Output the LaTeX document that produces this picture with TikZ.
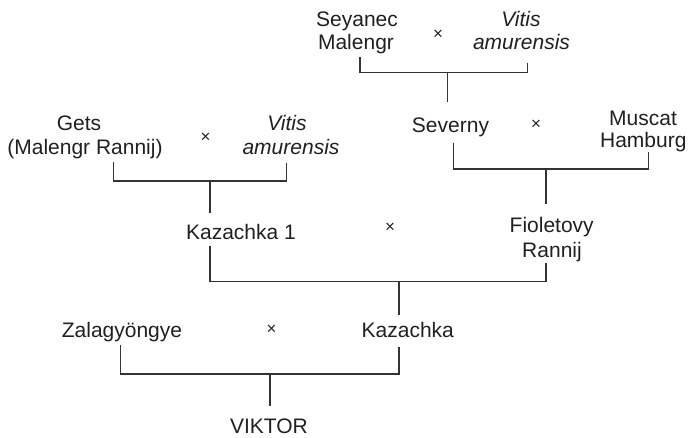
\documentclass[tikz,border=0pt]{standalone}
\usepackage{fontspec}
\setmainfont{Liberation Sans}
\definecolor{ink}{HTML}{231F20}
\definecolor{wire}{HTML}{333333}
\begin{document}
\begin{tikzpicture}[x=1pt,y=-1pt,
  lbl/.style={anchor=base,inner sep=0pt,text=ink,font=\fontsize{21}{22}\selectfont},
  cross/.style={anchor=center,inner sep=0pt,text=ink,font=\fontsize{17}{18}\selectfont},
  link/.style={draw=wire,line width=1.4pt,line join=miter}]
\useasboundingbox (0,0) rectangle (688,437);

% cultivar names, one node per printed line
\node[lbl] (sey1) at (357,26) {Seyanec};
\node[lbl] (sey2) at (356,49.5) {Malengr};
\node[lbl] (vaA1) at (521,26) {\itshape Vitis};
\node[lbl] (vaA2) at (521.5,49.5) {\itshape amurensis};
\node[cross] (xA) at (438,35) {×};

\node[lbl] (sev) at (450.5,132) {Severny};
\node[lbl] (mh1) at (643,125) {Muscat};
\node[lbl] (mh2) at (643.3,147.7) {Hamburg};
\node[cross] (xB) at (536,125) {×};

\node[lbl] (fr1) at (551.7,232.7) {Fioletovy};
\node[lbl] (fr2) at (552,257.3) {Rannij};

\node[lbl] (gets1) at (79,130.7) {Gets};
\node[lbl] (gets2) at (85,154) {(Malengr Rannij)};
\node[lbl] (vaB1) at (287,130.7) {\itshape Vitis};
\node[lbl] (vaB2) at (291,154) {\itshape amurensis};
\node[cross] (xC) at (205.7,137.3) {×};

\node[lbl] (kaz1) at (241,239.3) {Kazachka 1};
\node[cross] (xD) at (390,227.7) {×};

\node[lbl] (zal) at (122,337.3) {Zalagyöngye};
\node[lbl] (kaz) at (407.8,337.3) {Kazachka};
\node[cross] (xE) at (271.7,330) {×};

\node[lbl] (vik) at (269,433.2) {VIKTOR};

% bracket end points
\coordinate (tA1) at (360,56.7);
\coordinate (tA2) at (527.3,63);
\coordinate (jA) at (447.7,72.7);
\coordinate (sA) at (447.7,101.7);

\coordinate (tB1) at (453.3,142.7);
\coordinate (tB2) at (648.7,151.7);
\coordinate (jB) at (546,169);
\coordinate (sB) at (546,204);

\coordinate (tC1) at (113.3,161.7);
\coordinate (tC2) at (286.7,162.7);
\coordinate (jC) at (210,181);
\coordinate (sC) at (210,213.3);

\coordinate (tD1) at (210,246);
\coordinate (tD2) at (546,263.3);
\coordinate (jD) at (399,281.7);
\coordinate (sD) at (399,315);

\coordinate (tE1) at (120.7,345);
\coordinate (tE2) at (399,347.3);
\coordinate (jE) at (270,374);
\coordinate (sE) at (270,406);

% crossing brackets
\foreach \k in {A,B,C,D,E}{
  \draw[link] (t\k1) |- (j\k) -| (t\k2);
  \draw[link] (j\k) -- (s\k);
}
\end{tikzpicture}
\end{document}
